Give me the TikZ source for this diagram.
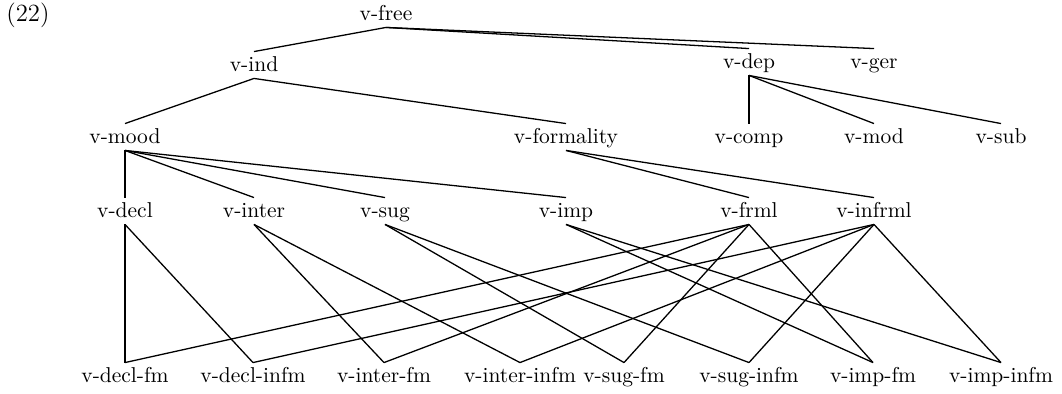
\documentclass[tikz,border=0pt]{standalone}
\begin{document}
\begin{tikzpicture}[x=0.465pt, y=-0.465pt,
  lbl/.style={inner sep=0pt, text height=9.3pt, text depth=2.8pt, anchor=base,
              font=\fontsize{10}{12}\selectfont},
  link/.style={line width=0.6pt}]
\useasboundingbox (0,0) rectangle (1062,394);

% example number
\node[lbl, font=\fontsize{11.5}{13}\selectfont] (num) at (28,22) {(22)};

% top levels
\node[lbl] (free) at (386,21) {v-free};
\node[lbl] (ind)  at (254,72) {v-ind};
\node[lbl] (dep)  at (749,69) {v-dep};
\node[lbl] (ger)  at (874,69) {v-ger};

\node[lbl] (mood) at (125,144) {v-mood};
\node[lbl] (form) at (566,144) {v-formality};
\node[lbl] (comp) at (749,144) {v-comp};
\node[lbl] (mod)  at (874,144) {v-mod};
\node[lbl] (sub)  at (1001,144) {v-sub};

\node[lbl] (decl)   at (125,218) {v-decl};
\node[lbl] (inter)  at (254,218) {v-inter};
\node[lbl] (sug)    at (385,218) {v-sug};
\node[lbl] (imp)    at (566,218) {v-imp};
\node[lbl] (frml)   at (749,218) {v-frml};
\node[lbl] (infrml) at (874,218) {v-infrml};

% cross-classified leaves
\node[lbl] (declfm)    at (125,383) {v-decl-fm};
\node[lbl] (declinfm)  at (253,383) {v-decl-infm};
\node[lbl] (interfm)   at (384,383) {v-inter-fm};
\node[lbl] (interinfm) at (520,383) {v-inter-infm};
\node[lbl] (sugfm)     at (624,383) {v-sug-fm};
\node[lbl] (suginfm)   at (749,383) {v-sug-infm};
\node[lbl] (impfm)     at (873,383) {v-imp-fm};
\node[lbl] (impinfm)   at (1001,383) {v-imp-infm};

% hierarchy
\foreach \p/\c in {free/ind, free/dep, free/ger,
                   ind/mood, ind/form,
                   dep/comp, dep/mod, dep/sub,
                   mood/decl, mood/inter, mood/sug, mood/imp,
                   form/frml, form/infrml,
                   decl/declfm, decl/declinfm,
                   inter/interfm, inter/interinfm,
                   sug/sugfm, sug/suginfm,
                   imp/impfm, imp/impinfm,
                   frml/declfm, frml/interfm, frml/sugfm, frml/impfm,
                   infrml/declinfm, infrml/interinfm, infrml/suginfm, infrml/impinfm}
  \draw[link] (\p.south) -- (\c.north);
\end{tikzpicture}
\end{document}
